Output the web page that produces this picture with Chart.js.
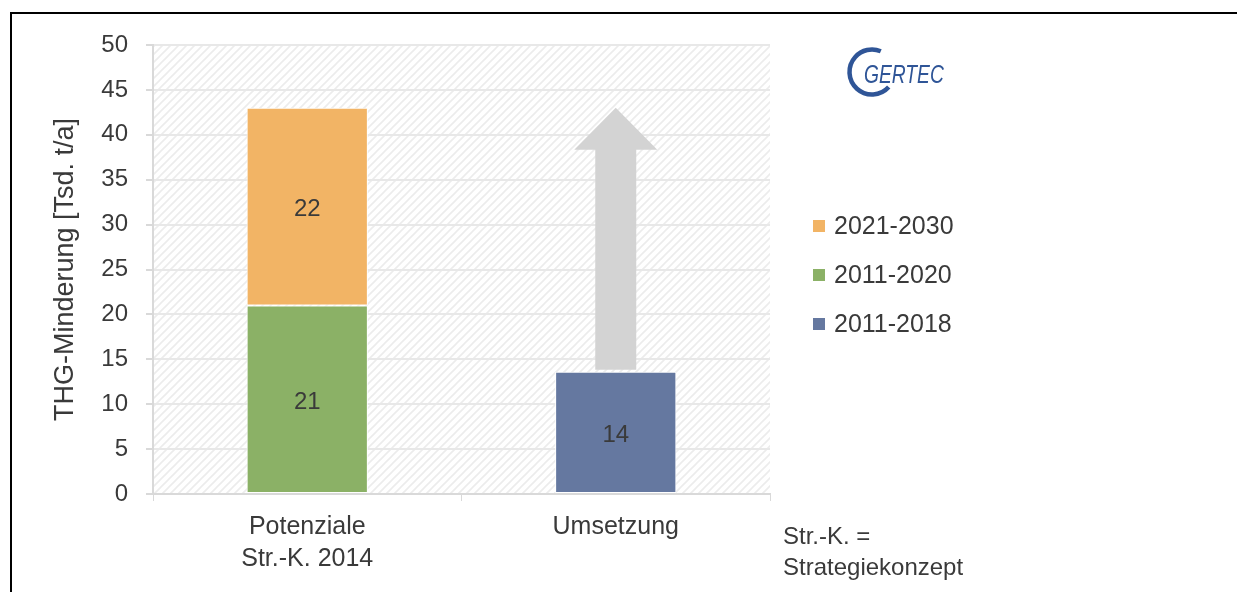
<!DOCTYPE html>
<html><head><meta charset="utf-8">
<script src="https://cdn.jsdelivr.net/npm/chart.js@4/dist/chart.umd.min.js"></script>
<style>
html,body{margin:0;padding:0;background:#fff;overflow:hidden;}
#wrap{position:relative;width:1237px;height:592px;overflow:hidden;}
#frame{position:absolute;left:10px;top:12px;width:1400px;height:800px;border:2px solid #000;box-sizing:border-box;}
canvas{position:absolute;left:0;top:0;}
</style></head><body>
<div id="wrap"><div id="frame"></div><canvas id="c" width="1237" height="592"></canvas></div>
<script>
// ---- data ----
const categories = [["Potenziale", "Str.-K. 2014"], "Umsetzung"];
const values2011_2020 = [21, null];
const values2021_2030 = [22, null];
const values2011_2018 = [null, 13.6];
const arrowFrom = [null, 13.6];
const arrowTo = [null, 43];
const yMin = 0, yMax = 50, yStep = 5;
const legendOrder = ["2021-2030", "2011-2020", "2011-2018"];
const noteLines = ["Str.-K. =", "Strategiekonzept"];
const yTitle = "THG-Minderung [Tsd. t/a]";
const logoText = "GERTEC";

// ---- styles ----
const FONT = "'Liberation Sans', Arial, sans-serif";
const TXT = "#3a3a3a";
const COL_GREEN = "#8bb166", COL_ORANGE = "#f2b465", COL_BLUE = "#6578a0", COL_ARROW = "#d3d3d3";

function makeHatch(ctx) {
  const p = document.createElement('canvas'); p.width = 8; p.height = 8;
  const g = p.getContext('2d');
  g.fillStyle = '#ffffff'; g.fillRect(0, 0, 8, 8);
  g.strokeStyle = '#ececec'; g.lineWidth = 1.6;
  g.beginPath();
  g.moveTo(-2, 10); g.lineTo(10, -2);
  g.moveTo(-6, 6); g.lineTo(6, -6);
  g.moveTo(2, 14); g.lineTo(14, 2);
  g.stroke();
  return ctx.createPattern(p, 'repeat');
}

const decor = {
  id: 'decor',
  beforeDraw(chart) {
    const {ctx, chartArea: a} = chart;
    ctx.save();
    ctx.fillStyle = makeHatch(ctx);
    ctx.fillRect(a.left, a.top, a.right - a.left, a.bottom - a.top);
    ctx.restore();
  },
  afterDatasetsDraw(chart) {
    const {ctx, scales: {x, y}} = chart;
    ctx.save();
    // arrow
    arrowFrom.forEach((v0, i) => {
      if (v0 == null) return;
      const cx = x.getPixelForValue(i);
      const yb = y.getPixelForValue(v0) - 2;
      const yt = y.getPixelForValue(arrowTo[i]);
      const headLen = 42, shaftHalf = 20.5, headHalf = 41.5;
      ctx.fillStyle = COL_ARROW;
      ctx.beginPath();
      ctx.moveTo(cx - shaftHalf, yb);
      ctx.lineTo(cx - shaftHalf, yt + headLen);
      ctx.lineTo(cx - headHalf, yt + headLen);
      ctx.lineTo(cx, yt);
      ctx.lineTo(cx + headHalf, yt + headLen);
      ctx.lineTo(cx + shaftHalf, yt + headLen);
      ctx.lineTo(cx + shaftHalf, yb);
      ctx.closePath();
      ctx.fill();
    });
    // data labels
    ctx.font = "24px " + FONT;
    ctx.fillStyle = TXT;
    ctx.textAlign = 'center'; ctx.textBaseline = 'middle';
    chart.data.datasets.forEach((ds, di) => {
      const meta = chart.getDatasetMeta(di);
      meta.data.forEach((el, i) => {
        const v = ds.data[i];
        if (v == null) return;
        const {x: bx, y: by, base} = el.getProps(['x', 'y', 'base'], true);
        ctx.fillText(String(Math.round(v)), bx, (by + base) / 2 + 3);
      });
    });
    ctx.restore();
  },
  afterDraw(chart) {
    const {ctx} = chart;
    ctx.save();
    // legend
    ctx.font = "25px " + FONT;
    ctx.textAlign = 'left'; ctx.textBaseline = 'middle';
    legendOrder.forEach((lab, k) => {
      const ds = chart.data.datasets.find(d => d.label === lab);
      const cy = 226 + k * 49;
      ctx.fillStyle = ds.backgroundColor;
      ctx.fillRect(813, cy - 6, 12, 12);
      ctx.fillStyle = TXT;
      ctx.fillText(lab, 834, cy + 1);
    });
    // note
    ctx.font = "24px " + FONT;
    noteLines.forEach((t, k) => ctx.fillText(t, 783, 537 + k * 31));
    // logo
    ctx.strokeStyle = '#2f5597'; ctx.lineWidth = 4.5;
    ctx.beginPath();
    ctx.arc(872, 72, 22.5, 42 * Math.PI / 180, 293 * Math.PI / 180, false);
    ctx.stroke();
    ctx.translate(864, 83);
    ctx.scale(0.74, 1);
    ctx.fillStyle = '#2f5597';
    ctx.font = "italic 26px " + FONT;
    ctx.textBaseline = 'alphabetic';
    ctx.fillText(logoText, 0, 0);
    ctx.restore();
  }
};

const tickFont = {family: FONT, size: 24};

new Chart(document.getElementById('c'), {
  type: 'bar',
  data: {
    labels: categories,
    datasets: [
      {label: "2011-2020", data: values2011_2020, backgroundColor: COL_GREEN},
      {label: "2021-2030", data: values2021_2030, backgroundColor: COL_ORANGE},
      {label: "2011-2018", data: values2011_2018, backgroundColor: COL_BLUE}
    ].map(d => Object.assign(d, {borderColor: '#ffffff', borderWidth: 1, borderSkipped: false, categoryPercentage: 1, barPercentage: 0.393}))
  },
  options: {
    responsive: false,
    animation: false,
    layout: {padding: {left: 40, right: 467, top: 45, bottom: 0}},
    plugins: {legend: {display: false}, tooltip: {enabled: false}},
    scales: {
      x: {
        stacked: true,
        grid: {display: true, drawOnChartArea: false, drawTicks: true, tickLength: 7, tickColor: '#d9d9d9', offset: true},
        border: {color: '#d9d9d9', width: 2},
        ticks: {font: {family: FONT, size: 25, lineHeight: 1.28}, color: TXT, padding: 10, maxRotation: 0, autoSkip: false},
        afterFit: s => { s.height = 98; }
      },
      y: {
        stacked: true,
        min: yMin, max: yMax,
        ticks: {stepSize: yStep, font: tickFont, color: TXT, padding: 18},
        grid: {color: '#e8e8e8', tickColor: '#d9d9d9', tickLength: 7, lineWidth: 2},
        border: {color: '#d9d9d9', width: 2},
        title: {display: true, text: yTitle, font: {family: FONT, size: 27}, color: TXT, padding: {top: 9, bottom: 0}},
        afterFit: s => { s.width = 113; }
      }
    }
  },
  plugins: [decor]
});
</script>
</body></html>
